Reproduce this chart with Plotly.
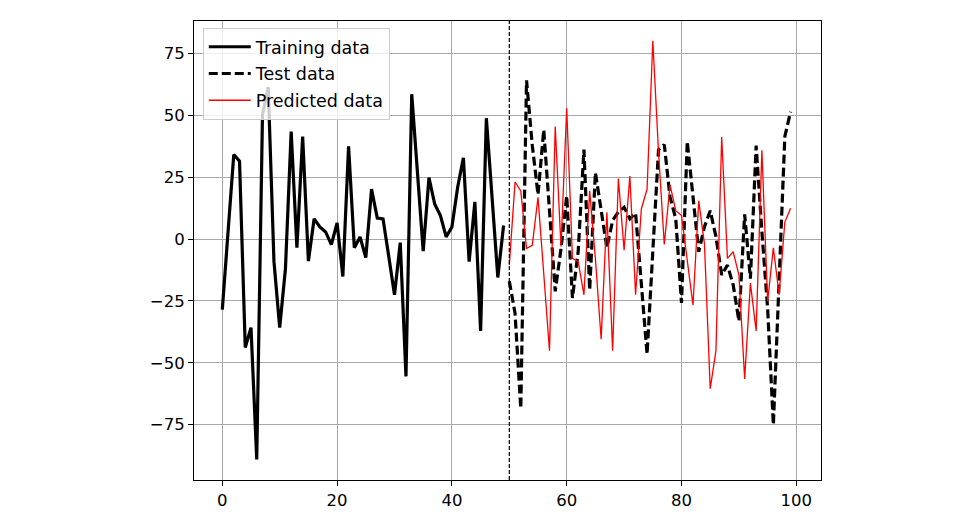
import plotly.graph_objects as go

# ---- data ----
train_x = list(range(0, 50))
train_y = [-28.5, 5, 34.2, 31.5, -43.8, -35.8, -89.1, 50.2, 61.5, -9,
           -35.8, -12, 43.5, -3.5, 41.5, -8.9, 8.2, 4.9, 2.9, -2.2,
           6.6, -15.1, 37.5, -3.5, 0.9, -7.5, 20.2, 8.5, 8.2, -7,
           -22.5, -1.4, -55.5, 58.6, 27, -4.9, 24.9, 14.2, 9.5, 0.9,
           4.9, 21, 32.9, -9.1, 15.1, -37.1, 48.9, 16, -15.5, 5.5]

test_x = list(range(50, 100))
test_y = [-17, -30, -68.5, 64.2, 38, 18, 44.2, 11, -21.1, -4,
          17.5, -23.8, -5, 36.2, -20.5, 26.9, 12, -3.5, 7.5, 11,
          12.9, 8.2, 10.5, -18, -46.5, -5, 36.2, 38.2, 17, 8.2,
          -25.8, 39.5, 18, -5.1, 5, 11.5, 1, -14.5, -10.5, -18.5,
          -33.1, 10, -16, 37.8, 3, -28, -75.1, -18, 41.5, 51.5]

pred_y = [-10.5, 23.1, 19.5, -3.8, -2.5, 16.9, -14, -45.1, 45.5, -3,
          52.9, -7.8, -9.1, -22.5, 19.5, -8, -40.5, 10.9, -45.1, 24.5,
          -4.5, 25.5, -22.5, 12.2, 20.2, 80.2, 35, -2.2, 21.9, 11.5,
          9.5, -8, -26.7, 15.5, -2, -60.5, -45.1, 41.3, -7.8, -5.1,
          -14.5, -56.5, -17.8, -37.1, 35.9, -25.1, -3.5, -22.5, 6.9, 12.5]

split_x = 50
x_ticks = [0, 20, 40, 60, 80, 100]
y_ticks = [-75, -50, -25, 0, 25, 50, 75]
y_tick_text = ["\u221275", "\u221250", "\u221225", "0", "25", "50", "75"]

fig = go.Figure()
fig.add_trace(go.Scatter(x=train_x, y=train_y, mode="lines", name="Training data",
                         line=dict(color="black", width=3.2), legendgroup="a"))
fig.add_trace(go.Scatter(x=test_x, y=test_y, mode="lines", name="Test data",
                         line=dict(color="black", width=3.2, dash="9px,4px"), legendgroup="b"))
fig.add_trace(go.Scatter(x=test_x, y=pred_y, mode="lines", name="Predicted data",
                         line=dict(color="red", width=1.3), legendgroup="c"))

fig.add_vline(x=split_x, line=dict(color="black", width=1.2, dash="4px,2px"))

axis_common = dict(showline=True, linecolor="black", linewidth=1, mirror=True,
                   ticks="outside", ticklen=5, tickcolor="black", tickwidth=1,
                   showgrid=True, gridcolor="#a8a8a8", gridwidth=1, zeroline=False,
                   tickfont=dict(family="DejaVu Sans", size=16.5, color="black"))

fig.update_xaxes(range=[-4.93, 104.3], tickvals=x_ticks, **axis_common)
fig.update_yaxes(range=[-97.4, 88.2], tickvals=y_ticks, ticktext=y_tick_text, **axis_common)

fig.update_layout(
    width=949, height=514,
    margin=dict(l=186, r=136, t=12, b=38),
    plot_bgcolor="white", paper_bgcolor="white",
    font=dict(family="DejaVu Sans", size=17, color="black"),
    legend=dict(x=0.014, y=0.985, xanchor="left", yanchor="top",
                bgcolor="rgba(255,255,255,0.8)", bordercolor="#cccccc", borderwidth=1,
                tracegroupgap=1, itemwidth=42,
                font=dict(family="DejaVu Sans", size=17.5)),
    showlegend=True,
)

fig.write_html("out.html")
